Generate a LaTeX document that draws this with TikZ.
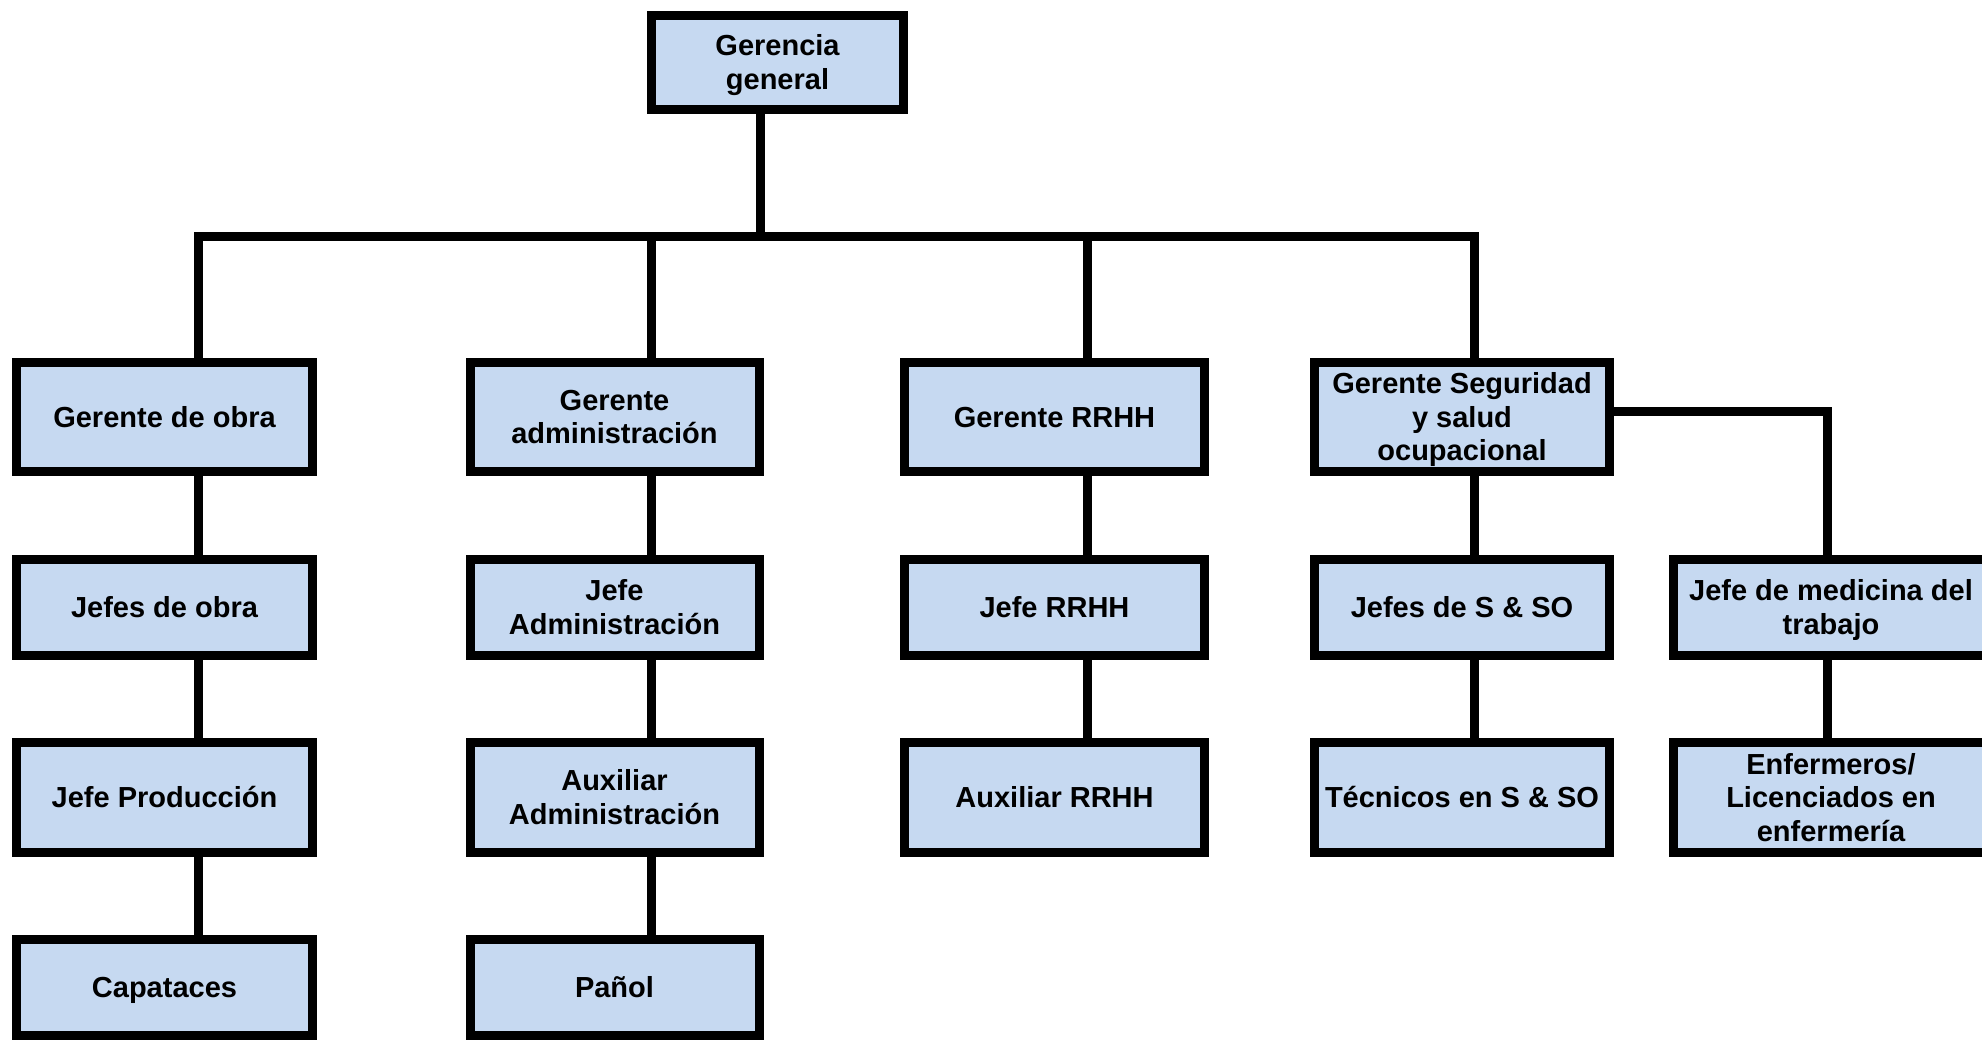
\documentclass[tikz,border=0pt]{standalone}
\usepackage{fontspec}
\usepackage{array}
\setmainfont{Liberation Sans}
\definecolor{boxblue}{RGB}{198,217,241}
\newcommand\rowstrut{\rule[-6.7pt]{0pt}{33.5pt}}
\renewcommand\arraystretch{0}
\newcommand\tl[1]{\begin{tabular}{@{}>{\rowstrut}c@{}}#1\end{tabular}}
\begin{document}
\begin{tikzpicture}[x=1pt,y=-1pt,
  box/.style={draw=black, line width=9pt, fill=boxblue, inner sep=0pt, outer sep=0pt,
    font=\fontsize{29}{33.5}\selectfont\bfseries},
  conn/.style={draw=black, line width=9pt, line join=miter}]
\useasboundingbox (0,0) rectangle (1982,1041);
\clip (0,0) rectangle (1982,1041);
\fill[white] (0,0) rectangle (1982,1041);
% top
\node[box, minimum width=252pt, minimum height=94pt] (gg) at (777.5,62.5) {\tl{Gerencia\\general}};
% row 1
\node[box, minimum width=296pt, minimum height=109pt] (a1) at (164.5,417) {\tl{Gerente de obra}};
\node[box, minimum width=289pt, minimum height=109pt] (b1) at (614.5,417) {\tl{Gerente\\administración}};
\node[box, minimum width=300pt, minimum height=109pt] (c1) at (1054.5,417) {\tl{Gerente RRHH}};
\node[box, minimum width=295pt, minimum height=109pt] (d1) at (1462,417) {\tl{Gerente Seguridad\\y salud\\ocupacional}};
% row 2
\node[box, minimum width=296pt, minimum height=96pt] (a2) at (164.5,607.5) {\tl{Jefes de obra}};
\node[box, minimum width=289pt, minimum height=96pt] (b2) at (614.5,607.5) {\tl{Jefe\\Administración}};
\node[box, minimum width=300pt, minimum height=96pt] (c2) at (1054.5,607.5) {\tl{Jefe RRHH}};
\node[box, minimum width=295pt, minimum height=96pt] (d2) at (1462,607.5) {\tl{Jefes de S \& SO}};
\node[box, minimum width=315pt, minimum height=96pt] (e2) at (1831,607.5) {\tl{Jefe de medicina del\\trabajo}};
% row 3
\node[box, minimum width=296pt, minimum height=110pt] (a3) at (164.5,797.5) {\tl{Jefe Producción}};
\node[box, minimum width=289pt, minimum height=110pt] (b3) at (614.5,797.5) {\tl{Auxiliar\\Administración}};
\node[box, minimum width=300pt, minimum height=110pt] (c3) at (1054.5,797.5) {\tl{Auxiliar RRHH}};
\node[box, minimum width=295pt, minimum height=110pt] (d3) at (1462,797.5) {\tl{Técnicos en S \& SO}};
\node[box, minimum width=315pt, minimum height=110pt] (e3) at (1831,797.5) {\tl{Enfermeros/\\Licenciados en\\enfermería}};
% row 4
\node[box, minimum width=296pt, minimum height=96pt] (a4) at (164.5,987.5) {\tl{Capataces}};
\node[box, minimum width=289pt, minimum height=96pt] (b4) at (614.5,987.5) {\tl{Pañol}};
% connector positions
\coordinate (xg) at (760,0);
\coordinate (xa) at (198.5,0);
\coordinate (xb) at (651.5,0);
\coordinate (xc) at (1087,0);
\coordinate (xd) at (1474,0);
\coordinate (xe) at (1827.5,0);
\coordinate (busy) at (0,236.5);
\coordinate (sidey) at (0,411);
% bus
\draw[conn] (a1.north -| xa) -- (busy -| xa) -- (busy -| xd) -- (d1.north -| xd);
\draw[conn] (gg.south -| xg) -- (busy -| xg);
\draw[conn] (b1.north -| xb) -- (busy -| xb);
\draw[conn] (c1.north -| xc) -- (busy -| xc);
% columns
\draw[conn] (a1.south -| xa) -- (a2.north -| xa);
\draw[conn] (a2.south -| xa) -- (a3.north -| xa);
\draw[conn] (a3.south -| xa) -- (a4.north -| xa);
\draw[conn] (b1.south -| xb) -- (b2.north -| xb);
\draw[conn] (b2.south -| xb) -- (b3.north -| xb);
\draw[conn] (b3.south -| xb) -- (b4.north -| xb);
\draw[conn] (c1.south -| xc) -- (c2.north -| xc);
\draw[conn] (c2.south -| xc) -- (c3.north -| xc);
\draw[conn] (d1.south -| xd) -- (d2.north -| xd);
\draw[conn] (d2.south -| xd) -- (d3.north -| xd);
\draw[conn] (d1.east |- sidey) -| (e2.north -| xe);
\draw[conn] (e2.south -| xe) -- (e3.north -| xe);
\end{tikzpicture}
\end{document}
